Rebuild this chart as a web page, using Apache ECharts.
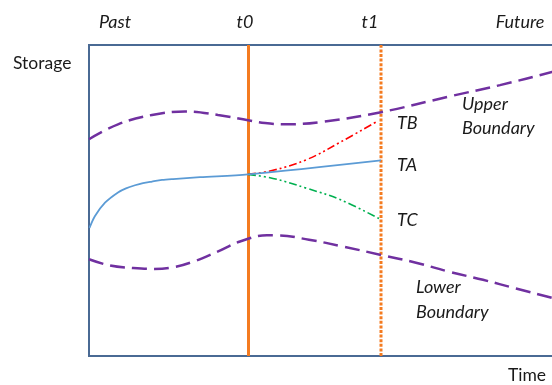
<!DOCTYPE html>
<html>
<head>
<meta charset="utf-8">
<script src="https://cdn.jsdelivr.net/npm/echarts@6/dist/echarts.min.js"></script>
<style>html,body{margin:0;padding:0;background:#fff}#c{width:552px;height:385px}</style>
</head>
<body>
<div id="c"></div>
<script>
// Time (arbitrary units) and storage (0-100 arbitrary units)
const t0 = 15.95;
const t1 = 29.2;
const upperBoundary = [[0,69.7],[2.9,74.5],[6.3,77.5],[9.6,78.6],[12.9,77.5],[15.9,75.8],[17.6,74.9],[19.6,74.5],[23.1,75.2],[29.2,78.4],[36.1,83.5],[41.1,87.1],[46.3,91.3],[47.1,91.9]];
const lowerBoundary = [[0,31.1],[2.1,29.1],[4.4,28.3],[6.3,28.0],[8.4,28.5],[10.4,30.3],[12.8,33.5],[15.1,36.8],[17.8,38.8],[18.7,38.8],[22.0,37.4],[25.4,35.2],[29.2,32.5],[32.7,30.0],[36.0,27.1],[39.4,24.5],[42.7,21.7],[46.3,18.7],[47.1,18.1]];
const seriesTA = [[0.05,41.2],[0.6,45.0],[1.6,49.3],[2.9,52.6],[3.7,53.9],[4.6,54.9],[5.4,55.6],[6.3,56.1],[7.3,56.6],[8.4,56.9],[11.1,57.5],[15.9,58.4],[29.2,62.9]];
const seriesTB = [[15.9,58.4],[18.4,59.7],[21.8,63.2],[25.1,68.7],[28.9,75.6]];
const seriesTC = [[15.9,58.4],[18.4,57.1],[21.8,53.9],[25.1,50.3],[29.0,44.2]];
const topLabels = ['Past','t0','t1','Future'];

const chart = echarts.init(document.getElementById('c'));
const font = 'Lato, "Open Sans", sans-serif';
const txt = (x, y, s, italic, align) => ({
  type: 'text', x: x, y: y,
  style: { text: s, font: (italic ? 'italic 18px ' : '17.5px ') + font, fill: '#1a1a1a', align: align || 'left', verticalAlign: 'middle' }
});
chart.setOption({
  animation: false,
  grid: { left: 89, top: 45, width: 470, height: 311, outerBoundsMode: 'none', show: true, borderColor: '#4a6a94', borderWidth: 2, backgroundColor: 'transparent' },
  xAxis: { type: 'value', min: 0, max: 47, show: false },
  yAxis: { type: 'value', min: 0, max: 100, show: false },
  series: [
    { type: 'line', data: [[t0,0],[t0,100]], symbol: 'none', lineStyle: { color: '#f47b20', width: 3 }, z: 3 },
    { type: 'line', data: [[t1,0],[t1,100]], symbol: 'none', lineStyle: { color: '#f47b20', width: 3, type: [3,1.6] }, z: 3 },
    { type: 'line', data: upperBoundary, smooth: 0.4, symbol: 'none', lineStyle: { color: '#7030a0', width: 2.5, type: [15,7] } },
    { type: 'line', data: lowerBoundary, smooth: 0.4, symbol: 'none', lineStyle: { color: '#7030a0', width: 2.5, type: [15,7] } },
    { type: 'line', data: seriesTB, smooth: 0.4, symbol: 'none', lineStyle: { color: '#ff0000', width: 1.6, type: [8,3,2,3,2,3] } },
    { type: 'line', data: seriesTC, smooth: 0.4, symbol: 'none', lineStyle: { color: '#00b050', width: 1.6, type: [8,3,2,3,2,3] } },
    { type: 'line', data: seriesTA, smooth: 0.3, symbol: 'none', lineStyle: { color: '#5b9bd5', width: 1.8 }, z: 4 }
  ],
  graphic: [
    txt(13, 63, 'Storage', false),
    txt(508, 375, 'Time', false),
    txt(115, 22, topLabels[0], true, 'center'),
    txt(245, 22, topLabels[1], true, 'center'),
    txt(370, 22, topLabels[2], true, 'center'),
    txt(520, 22, topLabels[3], true, 'center'),
    txt(397, 123, 'TB', true),
    txt(397, 165, 'TA', true),
    txt(397, 220, 'TC', true),
    txt(462, 104, 'Upper', true),
    txt(462, 128, 'Boundary', true),
    txt(416, 287, 'Lower', true),
    txt(416, 312, 'Boundary', true)
  ]
});
</script>
</body>
</html>
